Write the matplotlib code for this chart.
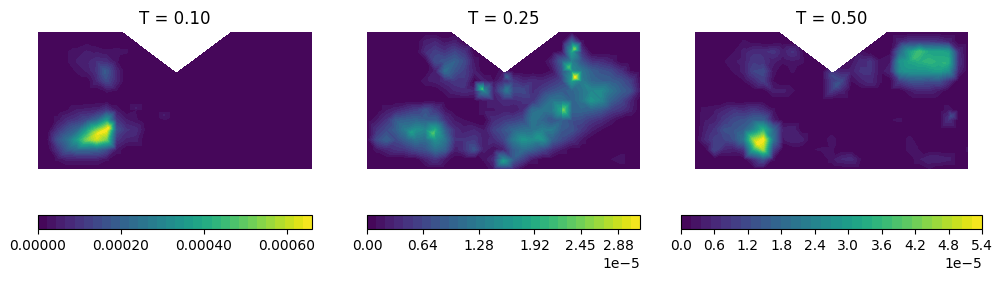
import numpy as np
import matplotlib
matplotlib.use("Agg")
import matplotlib.pyplot as plt
from matplotlib.ticker import FormatStrFormatter

titles = ["T = 0.10", "T = 0.25", "T = 0.50"]
peaks = [0.00066, 3.13e-5, 5.4e-5]

ticks_a = [0.0, 0.0002, 0.0004, 0.0006]
ticks_b = [0.0, 0.64e-5, 1.28e-5, 1.92e-5, 2.45e-5, 2.88e-5]
ticks_c = [0.0, 0.6e-5, 1.2e-5, 1.8e-5, 2.4e-5, 3.0e-5, 3.6e-5, 4.2e-5, 4.8e-5, 5.4e-5]

# outline of the cut out part of the domain
notch_x = [0.625, 1.01, 1.40]
notch_y = [1.0, 0.71, 1.0]

# field values, percent of the panel peak
# 15 rows (top to bottom) x 29 columns
field_a = np.array([
    [0]*29,
    [0,0,0,0,0,2,0,0,0,0,0,0,0,0,0,0,0,0,0,0,0,0,0,0,0,0,0,0,0],
    [0,0,0,3,5,7,6,4,5,4,0,0,0,0,0,0,0,0,0,0,0,0,0,0,0,0,0,0,0],
    [0,0,0,3,7,9,13,12,4,0,0,0,0,0,0,0,0,0,0,0,0,0,0,0,0,0,0,0,0],
    [0,0,0,0,4,7,14,26,10,0,0,0,0,0,0,0,0,0,0,0,0,0,0,0,0,0,0,0,0],
    [0,0,0,0,0,0,10,22,10,0,0,0,0,0,0,0,0,0,0,0,0,0,0,0,0,0,0,0,0],
    [0,0,0,0,0,0,0,4,3,0,0,0,0,0,0,0,0,0,0,0,0,0,0,0,0,0,0,0,0],
    [0]*29,
    [0,0,0,3,7,8,10,16,6,0,3,0,0,0,0,0,0,0,0,0,0,0,0,0,0,0,0,0,0],
    [0,0,5,12,16,22,32,55,15,7,4,0,0,3,0,0,0,0,0,0,0,0,0,0,0,0,0,0,0],
    [0,0,14,24,32,55,78,100,25,14,12,2,0,0,0,0,0,0,0,0,0,0,0,0,0,0,0,0,0],
    [0,3,24,36,55,80,92,78,15,9,8,0,0,0,0,0,0,0,0,0,0,0,0,0,0,0,0,0,0],
    [0,0,14,28,34,34,32,24,6,0,0,0,0,0,0,0,0,0,0,0,0,0,0,0,0,0,0,0,0],
    [0,0,4,8,8,8,8,4,0,0,0,0,0,0,0,0,0,0,0,0,0,0,0,0,0,0,0,0,0],
    [0]*29,
], dtype=float)

field_b = np.array([
    [0]*29,
    [0,0,0,0,0,0,8,10,5,8,0,0,0,0,0,0,0,0,0,0,0,30,4,0,0,0,0,0,0],
    [0,0,3,0,0,0,12,18,14,20,14,0,0,0,0,0,0,0,0,0,4,55,15,0,0,0,0,3,3],
    [0,0,0,0,0,0,0,22,25,30,22,6,0,0,0,0,0,0,0,10,30,42,25,14,12,8,0,0,0],
    [0,0,0,0,0,0,0,8,35,25,18,8,0,0,6,0,0,0,0,4,25,48,40,30,25,22,14,3,0],
    [0,0,0,0,0,0,6,8,12,16,16,0,8,3,12,15,10,12,10,14,20,55,42,33,30,29,25,18,3],
    [0,0,0,0,0,0,0,0,5,10,12,10,45,10,30,22,22,12,18,24,28,32,38,46,48,38,30,24,6],
    [0,0,0,0,0,0,0,0,0,0,0,0,6,8,12,12,14,14,28,38,38,30,38,52,46,30,22,10,0],
    [0,0,6,10,14,18,25,16,5,0,0,0,6,6,8,6,12,35,38,40,60,32,32,30,26,18,14,8,0],
    [0,6,14,28,30,32,30,30,14,6,3,0,0,12,16,18,22,40,32,25,30,24,22,16,12,6,0,0,0],
    [0,14,22,30,42,50,45,60,30,12,8,10,6,18,25,32,36,38,42,40,27,25,16,8,3,0,0,0,0],
    [0,22,30,22,30,38,35,50,38,14,14,16,8,12,20,40,52,48,50,30,22,14,6,0,0,0,0,0,0],
    [0,5,10,14,16,22,25,36,30,8,14,25,8,3,8,28,36,30,22,12,6,0,0,0,0,0,0,0,0],
    [0,0,0,0,0,0,8,14,6,0,0,0,4,12,45,28,18,6,0,0,0,0,0,0,3,3,6,0,0],
    [0,0,0,0,0,0,0,0,0,0,0,0,0,6,15,10,0,0,0,0,0,0,0,0,0,0,0,0,0],
], dtype=float)

field_c = np.array([
    [0]*29,
    [0,0,0,0,0,4,2,0,0,0,0,0,0,0,0,0,0,0,0,0,0,10,16,16,16,14,10,0,0],
    [0,0,0,0,3,8,12,12,15,8,14,3,0,0,0,0,0,4,0,0,2,32,55,70,58,58,55,12,0],
    [0,0,0,3,6,8,16,14,8,4,6,4,0,0,0,0,4,12,14,4,6,50,58,62,66,62,62,14,0],
    [0,0,0,0,4,8,20,22,5,0,4,0,0,0,14,8,8,14,14,4,10,48,52,52,52,55,48,10,0],
    [0,0,0,0,0,3,10,18,3,0,0,0,0,0,16,22,3,8,12,4,0,18,25,26,24,25,14,0,0],
    [0,0,0,0,0,0,0,0,8,8,4,0,0,0,16,10,0,0,0,0,0,0,6,10,10,6,0,0,0],
    [0]*29,
    [0,5,6,10,14,12,16,12,4,0,0,0,0,0,0,0,0,0,0,0,0,0,0,0,0,0,6,0,0],
    [0,6,8,16,22,24,30,30,8,0,0,0,0,0,0,0,0,0,0,0,3,4,0,0,0,0,14,0,0],
    [0,8,14,24,26,30,45,65,35,8,10,0,0,0,0,0,0,0,0,0,0,0,0,0,0,0,0,0,0],
    [0,10,18,20,24,38,85,100,38,6,10,8,0,0,6,0,0,0,0,0,0,0,5,0,0,0,0,0,0],
    [0,0,20,10,8,14,62,85,20,0,0,0,3,4,4,0,0,0,0,0,0,0,5,3,0,0,0,0,4],
    [0,0,0,0,0,0,12,25,4,0,0,0,0,0,5,10,12,3,0,0,0,0,0,6,10,10,8,0,0],
    [0,0,0,0,0,0,0,0,0,0,0,0,0,0,0,0,0,0,0,0,0,0,0,0,3,0,0,0,0],
], dtype=float)

# narrow hot spots that fall between the grid nodes
spots_a_x = [0.489, 0.440, 0.513, 0.715, 0.922]
spots_a_y = [0.710, 0.260, 0.297, 0.443, 0.394]
spots_a_v = [28, 98, 100, 7, 7]

spots_b_x = [1.519, 1.480, 1.524, 0.845, 1.438, 0.486, 0.327, 0.999, 1.023, 1.023, 1.255]
spots_b_y = [0.876, 0.742, 0.669, 0.584, 0.431, 0.260, 0.268, 0.058, 0.577, 0.674, 0.236]
spots_b_v = [80, 70, 100, 68, 78, 72, 55, 55, 40, 28, 52]

spots_c_x = [0.999, 1.035, 1.878, 1.609, 1.829, 0.460]
spots_c_y = [0.686, 0.613, 0.389, 0.815, 0.771, 0.187]
spots_c_v = [20, 26, 22, 68, 64, 100]

fields = [field_a, field_b, field_c]
spots = [(spots_a_x, spots_a_y, spots_a_v),
         (spots_b_x, spots_b_y, spots_b_v),
         (spots_c_x, spots_c_y, spots_c_v)]
tick_sets = [ticks_a, ticks_b, ticks_c]

W, H = 1003, 282
# left, top, right, bottom in pixels
panel_boxes = [(38, 32, 312, 169), (367, 32, 640, 169), (695, 32, 968, 169)]
cbar_boxes = [(38, 215, 312, 229), (367, 215, 640, 229), (681, 215, 982, 229)]


def to_rect(box):
    l, t, r, b = box
    return [l / W, (H - b) / H, (r - l) / W, (b - t) / H]


fig = plt.figure(figsize=(W / 100, H / 100), dpi=100)

gx, gy = np.meshgrid(np.linspace(0, 2, 29), np.linspace(1, 0, 15))

for i in range(3):
    ax = fig.add_axes(to_rect(panel_boxes[i]))
    sx, sy, sv = spots[i]
    x = np.concatenate([gx.ravel(), sx])
    y = np.concatenate([gy.ravel(), sy])
    z = np.concatenate([fields[i].ravel(), sv]) / 100.0 * peaks[i]
    levels = np.linspace(0, peaks[i], 31)
    cs = ax.tricontourf(x, y, z, levels=levels, cmap="viridis")
    ax.fill(notch_x, notch_y, color="white", lw=0, antialiased=False, zorder=3)
    ax.set_xlim(0, 2)
    ax.set_ylim(0, 1)
    ax.set_title(titles[i], fontsize=12)
    ax.axis("off")

    cax = fig.add_axes(to_rect(cbar_boxes[i]))
    cb = fig.colorbar(cs, cax=cax, orientation="horizontal")
    cb.set_ticks(tick_sets[i])
    if i == 0:
        cb.ax.xaxis.set_major_formatter(FormatStrFormatter("%.5f"))

fig.savefig("out.png", dpi=100)
